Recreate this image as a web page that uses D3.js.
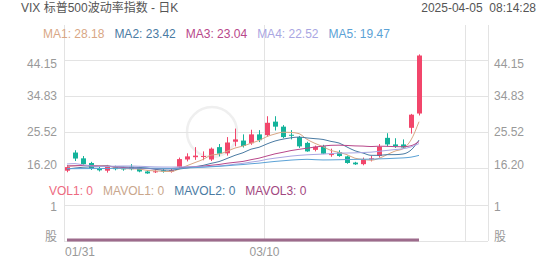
<!DOCTYPE html>
<html>
<head>
<meta charset="utf-8">
<script src="https://cdn.jsdelivr.net/npm/d3@7"></script>
<style>
  body { margin: 0; background: #fff; }
  svg { display: block; font-family: "Liberation Sans", Arial, "Noto Sans CJK SC", sans-serif; }
</style>
</head>
<body>
<svg id="chart" width="552" height="265"></svg>
<script>
// daily candles, 2025-01-31 .. 2025-04-04
const dates = ["01/31","02/03","02/04","02/05","02/06","02/07","02/10","02/11","02/12","02/13",
  "02/14","02/18","02/19","02/20","02/21","02/24","02/25","02/26","02/27","02/28",
  "03/03","03/04","03/05","03/06","03/07","03/10","03/11","03/12","03/13","03/14",
  "03/17","03/18","03/19","03/20","03/21","03/24","03/25","03/26","03/27","03/28",
  "03/31","04/01","04/02","04/03","04/04"];
const opens = [15.5,20.2,18.7,17.5,16.2,15.5,16.4,16.1,16.5,16.3,
  15.3,15.2,15.6,15.3,16.5,18.4,19.0,19.2,18.4,21.6,
  20.0,23.0,23.3,22.6,24.9,24.7,28.2,26.9,24.8,24.2,
  22.7,20.9,21.8,19.6,20.3,19.2,17.6,17.2,18.5,19.3,
  24.0,22.3,22.3,26.6,30.3];
const highs = [16.9,20.8,19.3,17.8,16.5,17.0,16.8,16.5,17.2,16.5,
  15.6,15.8,15.9,16.0,18.9,20.0,21.6,20.5,21.5,22.4,
  24.2,26.4,24.9,26.1,26.0,29.6,29.6,27.3,26.0,24.5,
  23.0,22.0,22.2,21.2,20.8,19.4,17.8,18.9,19.3,22.4,
  25.2,23.9,23.6,30.2,45.6];
const lows = [15.1,18.0,17.0,15.7,15.3,15.0,15.6,15.5,15.6,15.1,
  14.7,14.9,15.0,15.0,16.0,17.9,18.3,18.2,18.0,19.2,
  19.4,21.8,21.5,22.2,22.9,24.3,25.9,23.9,23.6,21.4,
  20.4,20.5,19.8,19.1,19.1,17.3,17.0,16.9,17.9,18.9,
  21.8,21.4,21.2,25.1,29.8];
const closes = [16.43,18.65,17.2,16.0,15.6,16.6,15.9,16.0,15.9,15.3,
  14.8,15.35,15.27,15.66,18.5,19.2,19.4,19.3,21.2,19.9,
  22.8,23.6,21.9,24.9,23.4,27.9,26.9,24.2,24.66,21.8,
  20.5,21.7,19.9,19.8,19.3,17.5,17.15,18.4,18.7,21.7,
  22.3,21.8,21.5,30.0,45.31];

// moving averages
const ma1 = [16.63,16.78,16.94,16.82,16.78,16.81,16.26,16.02,16.0,15.94,
  15.58,15.47,15.32,15.28,15.92,16.8,17.61,18.41,19.52,19.8,
  20.52,21.36,21.88,22.62,23.32,24.34,25.0,25.46,25.41,25.09,
  23.61,22.57,21.71,20.74,20.24,19.64,18.73,18.43,18.21,18.69,
  19.65,20.58,21.2,23.46,28.18];
const ma2 = [15.91,16.18,16.4,16.49,16.54,16.72,16.52,16.48,16.41,16.36,
  16.2,15.87,15.67,15.64,15.93,16.19,16.54,16.87,17.4,17.86,
  18.66,19.48,20.15,21.07,21.56,22.43,23.18,23.67,24.02,24.21,
  23.98,23.79,23.59,23.08,22.67,21.63,20.65,20.07,19.48,19.47,
  19.65,19.66,19.82,20.84,23.42];
const ma3 = [16.75,16.78,16.84,16.83,16.72,16.67,16.49,16.33,16.19,16.14,
  16.05,16.02,16.03,16.06,16.24,16.45,16.53,16.67,16.9,17.11,
  17.43,17.67,17.91,18.35,18.74,19.31,19.86,20.27,20.71,21.03,
  21.32,21.63,21.87,22.07,22.11,22.03,21.92,21.87,21.75,21.84,
  21.81,21.72,21.7,21.96,23.04];
const ma4 = [17.24,17.34,16.99,16.72,16.63,16.62,16.68,16.72,16.72,16.65,
  16.56,16.48,16.45,16.44,16.46,16.51,16.5,16.51,16.59,16.72,
  16.92,17.18,17.4,17.73,18.01,18.45,18.75,19.01,19.28,19.47,
  19.61,19.71,19.8,19.93,20.05,20.08,20.12,20.2,20.3,20.51,
  20.76,20.97,21.18,21.66,22.52];
const ma5 = [16.05,16.02,16.04,16.05,16.06,16.09,16.11,16.14,16.17,16.16,
  16.15,16.13,16.1,16.08,16.13,16.21,16.3,16.39,16.52,16.63,
  16.79,16.96,17.1,17.3,17.45,17.68,17.9,18.07,18.25,18.37,
  18.45,18.35,18.28,18.3,18.34,18.39,18.43,18.47,18.49,18.56,
  18.63,18.72,18.81,19.01,19.47];
const volumes = [0,0,0,0,0,0,0,0,0,0,0,0,0,0,0,0,0,0,0,0,0,0,0,0,0,
  0,0,0,0,0,0,0,0,0,0,0,0,0,0,0,0,0,0,0,0];

const priceTicks = [44.15, 34.83, 25.52, 16.20];
const volTicks = [1];
const dateTicks = ["01/31", "03/10"];
const maNames = ["MA1", "MA2", "MA3", "MA4", "MA5"];
const maSeries = [ma1, ma2, ma3, ma4, ma5];
const volNames = ["VOL1", "MAVOL1", "MAVOL2", "MAVOL3"];

const maColors = ["#d9a785", "#4a7ba3", "#b8478a", "#a9a6e2", "#5ba2d6"];
const volColors = ["#ee6a80", "#c9a68c", "#4a7ba3", "#a2477f"];
const upColor = "#f2466b", downColor = "#14b39b";
const gridColor = "#e3e3e3";

const svg = d3.select("#chart");

const x = d3.scaleLinear().domain([0, 50]).range([63, 463]);
const y = d3.scaleLinear().domain([16.20, 44.15]).range([168, 60]);
const yVol = d3.scaleLinear().domain([0, 1]).range([241, 205]);
const bodyW = 5;

// faint watermark ring
svg.append("circle")
  .attr("cx", 212).attr("cy", 132).attr("r", 25)
  .attr("fill", "none")
  .attr("stroke", "#efefef")
  .attr("stroke-width", 2.5);

// grid
const grid = svg.append("g");
grid.selectAll(".hgrid")
  .data(priceTicks)
  .join("line")
  .attr("x1", 64).attr("x2", 488)
  .attr("y1", (d) => Math.round(y(d)) + 0.5)
  .attr("y2", (d) => Math.round(y(d)) + 0.5)
  .attr("stroke", gridColor);
grid.selectAll(".vgrid")
  .data(volTicks.concat([0]))
  .join("line")
  .attr("x1", 64).attr("x2", 488)
  .attr("y1", (d) => Math.round(yVol(d)) + 0.5)
  .attr("y2", (d) => Math.round(yVol(d)) + 0.5)
  .attr("stroke", gridColor);
const vLines = dateTicks.map((d) => x(dates.indexOf(d)) + 1.5).concat([465.5, 488.5]);
grid.selectAll(".xgrid")
  .data(vLines)
  .join("line")
  .attr("x1", (d) => d).attr("x2", (d) => d)
  .attr("y1", 25).attr("y2", 241)
  .attr("stroke", gridColor);

// candles
const candles = svg.append("g")
  .selectAll("g")
  .data(dates)
  .join("g");
candles.append("line")
  .attr("x1", (d, i) => Math.round(x(i + 0.5)) + 0.5)
  .attr("x2", (d, i) => Math.round(x(i + 0.5)) + 0.5)
  .attr("y1", (d, i) => y(highs[i]))
  .attr("y2", (d, i) => y(lows[i]))
  .attr("stroke", (d, i) => closes[i] >= opens[i] ? upColor : downColor);
candles.append("rect")
  .attr("x", (d, i) => Math.round(x(i + 0.5)) + 0.5 - bodyW / 2)
  .attr("width", bodyW)
  .attr("y", (d, i) => y(Math.max(opens[i], closes[i])))
  .attr("height", (d, i) => Math.max(1, Math.abs(y(opens[i]) - y(closes[i]))))
  .attr("fill", (d, i) => closes[i] >= opens[i] ? upColor : downColor);

// moving averages
const maLine = (arr) => d3.line()
  .x((d, i) => x(i + 0.5))
  .y((d) => y(d))
  .curve(d3.curveMonotoneX)(arr);
svg.append("g")
  .selectAll("path")
  .data(maSeries)
  .join("path")
  .attr("d", (d) => maLine(d))
  .attr("fill", "none")
  .attr("stroke", (d, i) => maColors[i])
  .attr("stroke-width", 1);

// volume (all zero) + averages
svg.append("path")
  .attr("d", d3.line().x((d, i) => x(i + 0.5)).y((d) => yVol(d) - 1)(volumes))
  .attr("fill", "none")
  .attr("stroke", "#9d6b8c")
  .attr("stroke-width", 3);

// axis labels
const label = (g, t, xx, yy, anchor, col, size) => g.append("text")
  .attr("x", xx).attr("y", yy)
  .attr("text-anchor", anchor)
  .attr("dominant-baseline", "central")
  .attr("fill", col)
  .attr("font-size", size || 12)
  .text(t);

const axes = svg.append("g");
priceTicks.forEach((t, i) => {
  let yy = y(t);
  if (i === 0) yy += 4;
  if (i === priceTicks.length - 1) yy -= 3;
  label(axes, t.toFixed(2), 57, yy, "end", "#999");
  label(axes, t.toFixed(2), 494, yy, "start", "#999");
});
label(axes, "1", 57, yVol(1) + 2, "end", "#999");
label(axes, "1", 494, yVol(1) + 2, "start", "#999");
label(axes, "股", 57, 237, "end", "#999");
label(axes, "股", 494, 237, "start", "#999");

dateTicks.forEach((d, i) => {
  const xx = x(dates.indexOf(d)) + 1.5;
  if (i === 0) label(axes, d, 65, 252, "start", "#999");
  else label(axes, d, xx, 252, "middle", "#999");
});

// header
label(svg, "VIX 标普500波动率指数 - 日K", 21, 8, "start", "#555");
label(svg, "2025-04-05  08:14:28", 536, 8, "end", "#555").attr("xml:space", "preserve");

// legends
const maLegend = svg.append("text")
  .attr("x", 43).attr("y", 34)
  .attr("dominant-baseline", "central")
  .attr("font-size", 12)
  .attr("xml:space", "preserve");
maNames.forEach((n, i) => {
  maLegend.append("tspan")
    .attr("fill", maColors[i])
    .text((i ? "   " : "") + n + ": " + maSeries[i][maSeries[i].length - 1].toFixed(2));
});

const volLegend = svg.append("text")
  .attr("x", 49).attr("y", 191)
  .attr("dominant-baseline", "central")
  .attr("font-size", 12)
  .attr("xml:space", "preserve");
volNames.forEach((n, i) => {
  volLegend.append("tspan")
    .attr("fill", volColors[i])
    .text((i ? "   " : "") + n + ": " + volumes[volumes.length - 1]);
});
</script>
</body>
</html>
